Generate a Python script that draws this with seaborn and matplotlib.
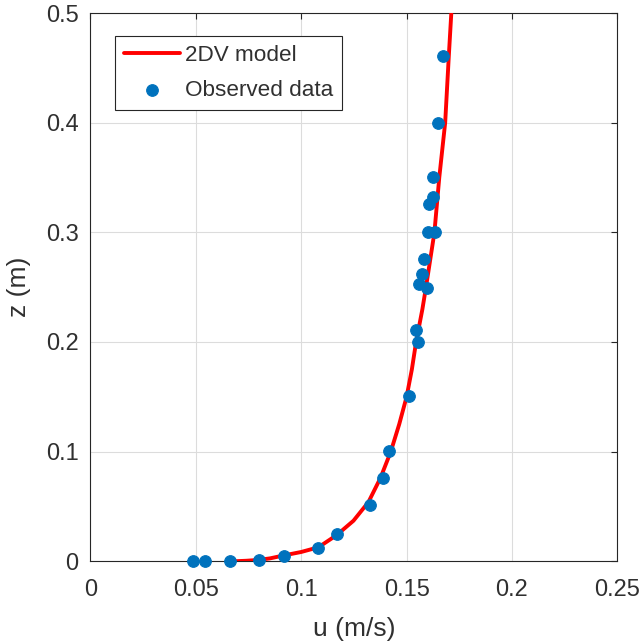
import matplotlib
matplotlib.use("Agg")
import matplotlib.pyplot as plt
import seaborn as sns
import pandas as pd

# 2DV model velocity profile (u in m/s, z in m)
u_model = [0.0680, 0.0740, 0.0800, 0.0853, 0.0916, 0.1000, 0.1082, 0.1169,
           0.1248, 0.1319, 0.1376, 0.1425, 0.1465, 0.1500, 0.1525, 0.1545,
           0.1575, 0.1592, 0.1632, 0.1655, 0.1683, 0.1700, 0.1713]
z_model = [0.0000, 0.0005, 0.0013, 0.0027, 0.0053, 0.0085, 0.0128, 0.0240,
           0.0370, 0.0540, 0.0760, 0.1000, 0.1250, 0.1500, 0.1750, 0.2000,
           0.2300, 0.2500, 0.3000, 0.3500, 0.4000, 0.4600, 0.5030]

# Measured velocities
u_obs = [0.0489, 0.0543, 0.0661, 0.0800, 0.0918, 0.1081, 0.1168, 0.1327,
         0.1390, 0.1417, 0.1512, 0.1544, 0.1552, 0.1559, 0.1571, 0.1595,
         0.1582, 0.1603, 0.1635, 0.1608, 0.1627, 0.1627, 0.1648, 0.1671]
z_obs = [0.0000, 0.0000, 0.0000, 0.0012, 0.0052, 0.0125, 0.0250, 0.0510,
         0.0760, 0.1010, 0.1510, 0.2110, 0.2000, 0.2527, 0.2618, 0.2495,
         0.2756, 0.3000, 0.3000, 0.3254, 0.3320, 0.3505, 0.4000, 0.4612]

x_ticks = [0, 0.05, 0.1, 0.15, 0.2, 0.25]
x_tick_labels = ["0", "0.05", "0.1", "0.15", "0.2", "0.25"]
y_ticks = [0, 0.1, 0.2, 0.3, 0.4, 0.5]
y_tick_labels = ["0", "0.1", "0.2", "0.3", "0.4", "0.5"]

model_df = pd.DataFrame({"u": u_model, "z": z_model})
obs_df = pd.DataFrame({"u": u_obs, "z": z_obs})

sns.set_theme(style="white")
plt.rcParams["font.family"] = ["Liberation Sans", "DejaVu Sans"]
text_color = "#303030"

fig = plt.figure(figsize=(6.42, 6.41), dpi=100)
ax = fig.add_axes([90.4 / 642, 1 - 561.3 / 641, 527 / 642, 548.3 / 641])

sns.lineplot(data=model_df, x="u", y="z", sort=False, estimator=None,
             color="#ff0000", linewidth=2.8, ax=ax, label="2DV model", zorder=3)
sns.scatterplot(data=obs_df, x="u", y="z", color="#0072bd", marker="o",
                s=70, edgecolor="#0072bd", linewidth=0.8, ax=ax,
                label="Observed data", zorder=4, clip_on=False)

ax.set_xlim(0, 0.25)
ax.set_ylim(0, 0.5)
ax.set_xticks(x_ticks)
ax.set_xticklabels(x_tick_labels)
ax.set_yticks(y_ticks)
ax.set_yticklabels(y_tick_labels)

ax.grid(True, color="#dcdcdc", linewidth=0.8)
ax.set_axisbelow(True)
for sp in ax.spines.values():
    sp.set_visible(True)
    sp.set_color("#262626")
    sp.set_linewidth(0.8)

ax.tick_params(axis="both", which="both", direction="in", length=4.5,
               width=0.8, color="#262626", labelcolor=text_color,
               labelsize=17, top=True, right=True)
ax.tick_params(axis="x", pad=13)
ax.tick_params(axis="y", pad=8.5)

ax.set_xlabel("u (m/s)", fontsize=19, color=text_color, labelpad=11.5)
ax.set_ylabel("z (m)", fontsize=19, color=text_color, labelpad=11)

leg = ax.legend(loc="upper left", bbox_to_anchor=(0.0467, 0.958),
                fontsize=16.2, frameon=True, fancybox=False, framealpha=1,
                edgecolor="#262626", handlelength=2.5, handletextpad=0.2,
                borderpad=0.4, labelspacing=0.62, borderaxespad=0)
leg.get_frame().set_linewidth(0.8)
for t in leg.get_texts():
    t.set_color(text_color)

fig.savefig("out.png", dpi=100)
